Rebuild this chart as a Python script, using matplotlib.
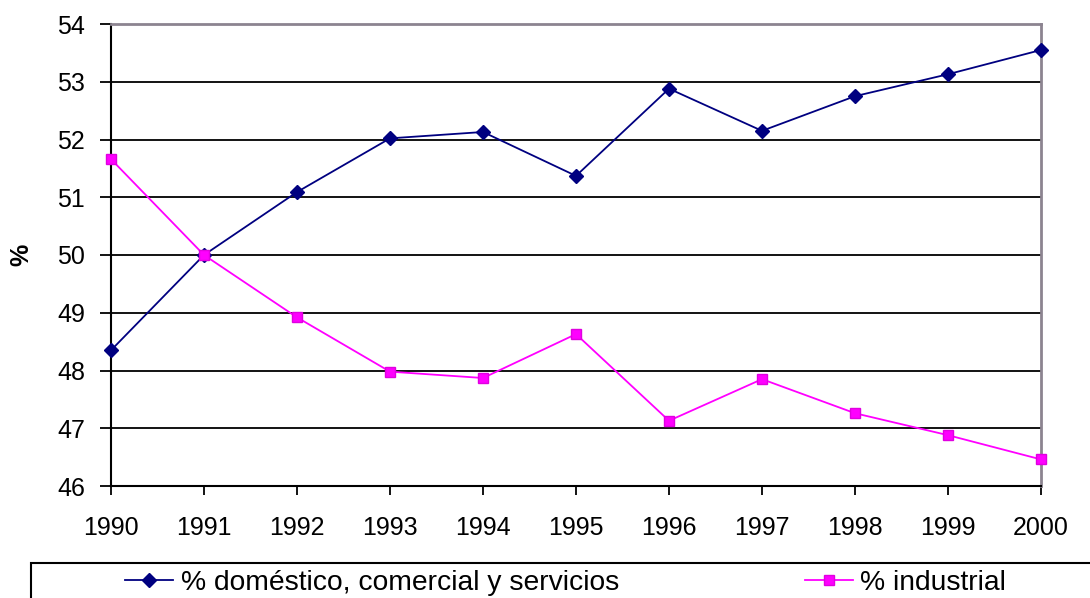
import matplotlib
matplotlib.use('Agg')
import matplotlib.pyplot as plt
from matplotlib.patches import Rectangle

plt.rcParams['font.family'] = ['Liberation Sans', 'DejaVu Sans']

years = [1990, 1991, 1992, 1993, 1994, 1995, 1996, 1997, 1998, 1999, 2000]
domestico = [48.35, 50.0, 51.09, 52.02, 52.13, 51.37, 52.88, 52.15, 52.75, 53.13, 53.55]
industrial = [51.66, 50.0, 48.92, 47.98, 47.87, 48.63, 47.13, 47.85, 47.26, 46.88, 46.46]
yticks = [46, 47, 48, 49, 50, 51, 52, 53, 54]

fig = plt.figure(figsize=(10.9, 5.98), dpi=100)
ax = fig.add_axes([111 / 1090, 1 - 486 / 598, 930 / 1090, 462 / 598])

for y in yticks[1:-1]:
    ax.axhline(y, color='black', lw=1.3, zorder=1)

ax.plot(years, domestico, color='#000080', marker='D', markersize=7.5, lw=1.3,
        label='% doméstico, comercial y servicios', zorder=3, clip_on=False)
ax.plot(years, industrial, color='#FF00FF', marker='s', markersize=6.5, lw=1.3,
        markeredgecolor='#E000E0', label='% industrial', zorder=3, clip_on=False)

ax.set_xlim(1990, 2000)
ax.set_ylim(46, 54)
ax.set_xticks(years)
ax.set_yticks(yticks)
ax.tick_params(labelsize=18, width=1.3, direction='out')
ax.tick_params(axis='y', length=8, pad=10.8)
ax.tick_params(axis='x', length=6.5, pad=15)
ax.set_ylabel('%', fontsize=18, fontweight='bold')
ax.yaxis.set_label_coords(-0.0839, 0.5)

for side in ['left', 'bottom']:
    ax.spines[side].set_color('black')
    ax.spines[side].set_linewidth(1.5)
for side in ['top', 'right']:
    ax.spines[side].set_color('#8C8490')
    ax.spines[side].set_linewidth(2)

# legend box, cut off by the figure edge
fig.patches.append(Rectangle((31 / 1090, -0.1), 1.1, 0.1 + (598 - 563) / 598,
                             transform=fig.transFigure, fill=False,
                             edgecolor='black', lw=1.5))
h, l = ax.get_legend_handles_labels()
fig.legend(h, l, ncol=2, loc='center left', bbox_to_anchor=(125 / 1090, 1 - 583 / 598),
           frameon=False, fontsize=20.3, handlelength=1.69, handletextpad=0.28,
           columnspacing=6.6, borderpad=0, borderaxespad=0)

fig.savefig('out.png', dpi=100)
